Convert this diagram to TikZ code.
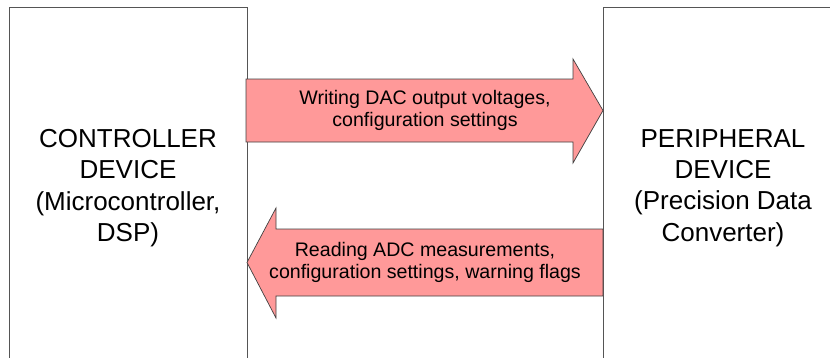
\documentclass[tikz,border=0pt]{standalone}
\usepackage{fontspec}
\setmainfont{Liberation Sans}
\usepackage{xcolor}
\definecolor{busred}{RGB}{255,153,153}
\definecolor{boxgray}{RGB}{85,85,85}
\usetikzlibrary{positioning}

\begin{document}
\begin{tikzpicture}[x=1pt, y=1pt,
  devbox/.style={draw=boxgray, line width=1.3pt, minimum width=238pt, minimum height=400pt, anchor=north west, inner sep=0pt},
  devtext/.style={align=center, font=\fontsize{26}{31.3}\selectfont},
  busarrow/.style={fill=busred, draw=black!75, line width=0.7pt, line join=miter},
  bustext/.style={align=center, font=\fontsize{19.6}{22.8}\selectfont}]

\useasboundingbox (0,0) rectangle (830,357);

% Controller and peripheral boxes (both run off the page)
\node[devbox] (ctrl) at (9,350) {};
\node[devbox, minimum width=260pt] (periph) at (603,350) {};

% Box labels
\node[devtext] (ctrllabel) at (128,169) {CONTROLLER\\DEVICE\\(Microcontroller,\\DSP)};
\node[devtext] (periphlabel) at (723,169) {PERIPHERAL\\DEVICE\\(Precision Data\\Converter)};

% Write arrow: controller -> peripheral
\filldraw[busarrow] (246,278) -- (573,278) -- (573,298) -- (603,246.5)
  -- (573,194) -- (573,215) -- (246,215) -- cycle;
\node[bustext] (writelabel) at (425,246.5) {Writing DAC output voltages,\\configuration settings};

% Read arrow: peripheral -> controller
\filldraw[busarrow] (603,128) -- (276,128) -- (276,149) -- (247,94.5)
  -- (276,39) -- (276,61) -- (603,61) -- cycle;
\node[bustext] (readlabel) at (425,94.5) {Reading ADC measurements,\\configuration settings, warning flags};

\end{tikzpicture}
\end{document}
